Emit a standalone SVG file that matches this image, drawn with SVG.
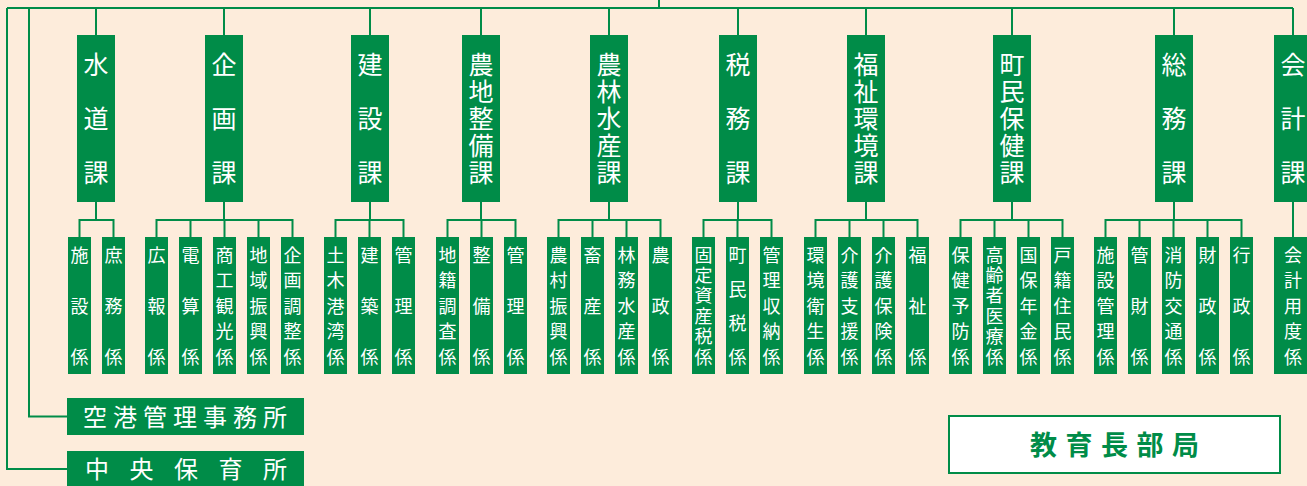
<svg xmlns="http://www.w3.org/2000/svg" width="1307" height="486" viewBox="0 0 1307 486">
<style>
.bg{fill:#fdecdb}
.box{fill:#008c48}
.ln{fill:none;stroke:#008c48;stroke-width:2}
.bt{font-family:"Noto Sans CJK JP","Noto Sans",sans-serif;font-size:25px;fill:#fff;text-anchor:middle}
.st{font-family:"Noto Sans CJK JP","Noto Sans",sans-serif;font-size:18px;fill:#fff;text-anchor:middle}
.ht{font-family:"Noto Sans CJK JP","Noto Sans",sans-serif;font-size:24px;fill:#fff}
.et{font-family:"Noto Sans CJK JP","Noto Sans",sans-serif;font-size:27px;font-weight:bold;fill:#008c48}
</style>
<rect class="bg" x="0" y="0" width="1307" height="486"/>
<g id="connectors">
<path class="ln" d="M659,0V8 M7,8H1293 M7,8V469H67 M29,8V416.5H67"/>
<path class="ln" d="M96,8V35 M224,8V35 M370,8V35 M481,8V35 M609,8V35 M738,8V35 M866,8V35 M1012,8V35 M1174,8V35 M1293,8V35"/>
<path class="ln" d="M96,202V220 M79.5,237V220H113.5V237"/>
<path class="ln" d="M224,202V220 M156.5,237V220H292.5V237 M190.5,220V237 M224.5,220V237 M258.5,220V237"/>
<path class="ln" d="M370,202V220 M335.5,237V220H403.5V237 M369.5,220V237"/>
<path class="ln" d="M481,202V220 M447.5,237V220H515.5V237 M481.5,220V237"/>
<path class="ln" d="M609,202V220 M558.5,237V220H660.5V237 M592.5,220V237 M626.5,220V237"/>
<path class="ln" d="M738,202V220 M703.5,237V220H771.5V237 M737.5,220V237"/>
<path class="ln" d="M866,202V220 M815.5,237V220H917.5V237 M849.5,220V237 M883.5,220V237"/>
<path class="ln" d="M1012,202V220 M960.5,237V220H1062.5V237 M994.5,220V237 M1028.5,220V237"/>
<path class="ln" d="M1174,202V220 M1105.5,237V220H1241.5V237 M1139.5,220V237 M1173.5,220V237 M1207.5,220V237"/>
<path class="ln" d="M1293,202V237"/>
</g>

<g id="suido">
<rect class="box" x="77" y="35" width="38" height="167"/>
<text class="bt"><tspan x="96" y="74">水</tspan><tspan x="96" y="128">道</tspan><tspan x="96" y="182">課</tspan></text>
</g>
<g id="suido-shisetsu"><rect class="box" x="68" y="237" width="23" height="137"/><text class="st"><tspan x="79.5" y="261.5">施</tspan><tspan x="79.5" y="312.5">設</tspan><tspan x="79.5" y="363.5">係</tspan></text></g>
<g id="suido-shomu"><rect class="box" x="102" y="237" width="23" height="137"/><text class="st"><tspan x="113.5" y="261.5">庶</tspan><tspan x="113.5" y="312.5">務</tspan><tspan x="113.5" y="363.5">係</tspan></text></g>

<g id="kikaku">
<rect class="box" x="205" y="35" width="38" height="167"/>
<text class="bt"><tspan x="224" y="74">企</tspan><tspan x="224" y="128">画</tspan><tspan x="224" y="182">課</tspan></text>
</g>
<g id="kikaku-koho"><rect class="box" x="145" y="237" width="23" height="137"/><text class="st"><tspan x="156.5" y="261.5">広</tspan><tspan x="156.5" y="312.5">報</tspan><tspan x="156.5" y="363.5">係</tspan></text></g>
<g id="kikaku-densan"><rect class="box" x="179" y="237" width="23" height="137"/><text class="st"><tspan x="190.5" y="261.5">電</tspan><tspan x="190.5" y="312.5">算</tspan><tspan x="190.5" y="363.5">係</tspan></text></g>
<g id="kikaku-shoko"><rect class="box" x="213" y="237" width="23" height="137"/><text class="st"><tspan x="224.5" y="261.5">商</tspan><tspan x="224.5" y="287">工</tspan><tspan x="224.5" y="312.5">観</tspan><tspan x="224.5" y="338">光</tspan><tspan x="224.5" y="363.5">係</tspan></text></g>
<g id="kikaku-chiiki"><rect class="box" x="247" y="237" width="23" height="137"/><text class="st"><tspan x="258.5" y="261.5">地</tspan><tspan x="258.5" y="287">域</tspan><tspan x="258.5" y="312.5">振</tspan><tspan x="258.5" y="338">興</tspan><tspan x="258.5" y="363.5">係</tspan></text></g>
<g id="kikaku-chosei"><rect class="box" x="281" y="237" width="23" height="137"/><text class="st"><tspan x="292.5" y="261.5">企</tspan><tspan x="292.5" y="287">画</tspan><tspan x="292.5" y="312.5">調</tspan><tspan x="292.5" y="338">整</tspan><tspan x="292.5" y="363.5">係</tspan></text></g>

<g id="kensetsu">
<rect class="box" x="351" y="35" width="38" height="167"/>
<text class="bt"><tspan x="370" y="74">建</tspan><tspan x="370" y="128">設</tspan><tspan x="370" y="182">課</tspan></text>
</g>
<g id="kensetsu-doboku"><rect class="box" x="324" y="237" width="23" height="137"/><text class="st"><tspan x="335.5" y="261.5">土</tspan><tspan x="335.5" y="287">木</tspan><tspan x="335.5" y="312.5">港</tspan><tspan x="335.5" y="338">湾</tspan><tspan x="335.5" y="363.5">係</tspan></text></g>
<g id="kensetsu-kenchiku"><rect class="box" x="358" y="237" width="23" height="137"/><text class="st"><tspan x="369.5" y="261.5">建</tspan><tspan x="369.5" y="312.5">築</tspan><tspan x="369.5" y="363.5">係</tspan></text></g>
<g id="kensetsu-kanri"><rect class="box" x="392" y="237" width="23" height="137"/><text class="st"><tspan x="403.5" y="261.5">管</tspan><tspan x="403.5" y="312.5">理</tspan><tspan x="403.5" y="363.5">係</tspan></text></g>

<g id="nochi">
<rect class="box" x="462" y="35" width="38" height="167"/>
<text class="bt"><tspan x="481" y="74">農</tspan><tspan x="481" y="101">地</tspan><tspan x="481" y="128">整</tspan><tspan x="481" y="155">備</tspan><tspan x="481" y="182">課</tspan></text>
</g>
<g id="nochi-chiseki"><rect class="box" x="436" y="237" width="23" height="137"/><text class="st"><tspan x="447.5" y="261.5">地</tspan><tspan x="447.5" y="287">籍</tspan><tspan x="447.5" y="312.5">調</tspan><tspan x="447.5" y="338">査</tspan><tspan x="447.5" y="363.5">係</tspan></text></g>
<g id="nochi-seibi"><rect class="box" x="470" y="237" width="23" height="137"/><text class="st"><tspan x="481.5" y="261.5">整</tspan><tspan x="481.5" y="312.5">備</tspan><tspan x="481.5" y="363.5">係</tspan></text></g>
<g id="nochi-kanri"><rect class="box" x="504" y="237" width="23" height="137"/><text class="st"><tspan x="515.5" y="261.5">管</tspan><tspan x="515.5" y="312.5">理</tspan><tspan x="515.5" y="363.5">係</tspan></text></g>

<g id="norin">
<rect class="box" x="590" y="35" width="38" height="167"/>
<text class="bt"><tspan x="609" y="74">農</tspan><tspan x="609" y="101">林</tspan><tspan x="609" y="128">水</tspan><tspan x="609" y="155">産</tspan><tspan x="609" y="182">課</tspan></text>
</g>
<g id="norin-noson"><rect class="box" x="547" y="237" width="23" height="137"/><text class="st"><tspan x="558.5" y="261.5">農</tspan><tspan x="558.5" y="287">村</tspan><tspan x="558.5" y="312.5">振</tspan><tspan x="558.5" y="338">興</tspan><tspan x="558.5" y="363.5">係</tspan></text></g>
<g id="norin-chikusan"><rect class="box" x="581" y="237" width="23" height="137"/><text class="st"><tspan x="592.5" y="261.5">畜</tspan><tspan x="592.5" y="312.5">産</tspan><tspan x="592.5" y="363.5">係</tspan></text></g>
<g id="norin-rinmu"><rect class="box" x="615" y="237" width="23" height="137"/><text class="st"><tspan x="626.5" y="261.5">林</tspan><tspan x="626.5" y="287">務</tspan><tspan x="626.5" y="312.5">水</tspan><tspan x="626.5" y="338">産</tspan><tspan x="626.5" y="363.5">係</tspan></text></g>
<g id="norin-nosei"><rect class="box" x="649" y="237" width="23" height="137"/><text class="st"><tspan x="660.5" y="261.5">農</tspan><tspan x="660.5" y="312.5">政</tspan><tspan x="660.5" y="363.5">係</tspan></text></g>

<g id="zeimu">
<rect class="box" x="719" y="35" width="38" height="167"/>
<text class="bt"><tspan x="738" y="74">税</tspan><tspan x="738" y="128">務</tspan><tspan x="738" y="182">課</tspan></text>
</g>
<g id="zeimu-kotei"><rect class="box" x="692" y="237" width="23" height="137"/><text class="st"><tspan x="703.5" y="261.5">固</tspan><tspan x="703.5" y="281.9">定</tspan><tspan x="703.5" y="302.3">資</tspan><tspan x="703.5" y="322.7">産</tspan><tspan x="703.5" y="343.1">税</tspan><tspan x="703.5" y="363.5">係</tspan></text></g>
<g id="zeimu-chomin"><rect class="box" x="726" y="237" width="23" height="137"/><text class="st"><tspan x="737.5" y="261.5">町</tspan><tspan x="737.5" y="295.5">民</tspan><tspan x="737.5" y="329.5">税</tspan><tspan x="737.5" y="363.5">係</tspan></text></g>
<g id="zeimu-shuno"><rect class="box" x="760" y="237" width="23" height="137"/><text class="st"><tspan x="771.5" y="261.5">管</tspan><tspan x="771.5" y="287">理</tspan><tspan x="771.5" y="312.5">収</tspan><tspan x="771.5" y="338">納</tspan><tspan x="771.5" y="363.5">係</tspan></text></g>

<g id="fukushi">
<rect class="box" x="847" y="35" width="38" height="167"/>
<text class="bt"><tspan x="866" y="74">福</tspan><tspan x="866" y="101">祉</tspan><tspan x="866" y="128">環</tspan><tspan x="866" y="155">境</tspan><tspan x="866" y="182">課</tspan></text>
</g>
<g id="fukushi-kankyo"><rect class="box" x="804" y="237" width="23" height="137"/><text class="st"><tspan x="815.5" y="261.5">環</tspan><tspan x="815.5" y="287">境</tspan><tspan x="815.5" y="312.5">衛</tspan><tspan x="815.5" y="338">生</tspan><tspan x="815.5" y="363.5">係</tspan></text></g>
<g id="fukushi-shien"><rect class="box" x="838" y="237" width="23" height="137"/><text class="st"><tspan x="849.5" y="261.5">介</tspan><tspan x="849.5" y="287">護</tspan><tspan x="849.5" y="312.5">支</tspan><tspan x="849.5" y="338">援</tspan><tspan x="849.5" y="363.5">係</tspan></text></g>
<g id="fukushi-hoken"><rect class="box" x="872" y="237" width="23" height="137"/><text class="st"><tspan x="883.5" y="261.5">介</tspan><tspan x="883.5" y="287">護</tspan><tspan x="883.5" y="312.5">保</tspan><tspan x="883.5" y="338">険</tspan><tspan x="883.5" y="363.5">係</tspan></text></g>
<g id="fukushi-fukushi"><rect class="box" x="906" y="237" width="23" height="137"/><text class="st"><tspan x="917.5" y="261.5">福</tspan><tspan x="917.5" y="312.5">祉</tspan><tspan x="917.5" y="363.5">係</tspan></text></g>

<g id="chomin">
<rect class="box" x="993" y="35" width="38" height="167"/>
<text class="bt"><tspan x="1012" y="74">町</tspan><tspan x="1012" y="101">民</tspan><tspan x="1012" y="128">保</tspan><tspan x="1012" y="155">健</tspan><tspan x="1012" y="182">課</tspan></text>
</g>
<g id="chomin-yobo"><rect class="box" x="949" y="237" width="23" height="137"/><text class="st"><tspan x="960.5" y="261.5">保</tspan><tspan x="960.5" y="287">健</tspan><tspan x="960.5" y="312.5">予</tspan><tspan x="960.5" y="338">防</tspan><tspan x="960.5" y="363.5">係</tspan></text></g>
<g id="chomin-koreisha"><rect class="box" x="983" y="237" width="23" height="137"/><text class="st"><tspan x="994.5" y="261.5">高</tspan><tspan x="994.5" y="281.9">齢</tspan><tspan x="994.5" y="302.3">者</tspan><tspan x="994.5" y="322.7">医</tspan><tspan x="994.5" y="343.1">療</tspan><tspan x="994.5" y="363.5">係</tspan></text></g>
<g id="chomin-kokuho"><rect class="box" x="1017" y="237" width="23" height="137"/><text class="st"><tspan x="1028.5" y="261.5">国</tspan><tspan x="1028.5" y="287">保</tspan><tspan x="1028.5" y="312.5">年</tspan><tspan x="1028.5" y="338">金</tspan><tspan x="1028.5" y="363.5">係</tspan></text></g>
<g id="chomin-koseki"><rect class="box" x="1051" y="237" width="23" height="137"/><text class="st"><tspan x="1062.5" y="261.5">戸</tspan><tspan x="1062.5" y="287">籍</tspan><tspan x="1062.5" y="312.5">住</tspan><tspan x="1062.5" y="338">民</tspan><tspan x="1062.5" y="363.5">係</tspan></text></g>

<g id="somu">
<rect class="box" x="1155" y="35" width="38" height="167"/>
<text class="bt"><tspan x="1174" y="74">総</tspan><tspan x="1174" y="128">務</tspan><tspan x="1174" y="182">課</tspan></text>
</g>
<g id="somu-shisetsu"><rect class="box" x="1094" y="237" width="23" height="137"/><text class="st"><tspan x="1105.5" y="261.5">施</tspan><tspan x="1105.5" y="287">設</tspan><tspan x="1105.5" y="312.5">管</tspan><tspan x="1105.5" y="338">理</tspan><tspan x="1105.5" y="363.5">係</tspan></text></g>
<g id="somu-kanzai"><rect class="box" x="1128" y="237" width="23" height="137"/><text class="st"><tspan x="1139.5" y="261.5">管</tspan><tspan x="1139.5" y="312.5">財</tspan><tspan x="1139.5" y="363.5">係</tspan></text></g>
<g id="somu-shobo"><rect class="box" x="1162" y="237" width="23" height="137"/><text class="st"><tspan x="1173.5" y="261.5">消</tspan><tspan x="1173.5" y="287">防</tspan><tspan x="1173.5" y="312.5">交</tspan><tspan x="1173.5" y="338">通</tspan><tspan x="1173.5" y="363.5">係</tspan></text></g>
<g id="somu-zaisei"><rect class="box" x="1196" y="237" width="23" height="137"/><text class="st"><tspan x="1207.5" y="261.5">財</tspan><tspan x="1207.5" y="312.5">政</tspan><tspan x="1207.5" y="363.5">係</tspan></text></g>
<g id="somu-gyosei"><rect class="box" x="1230" y="237" width="23" height="137"/><text class="st"><tspan x="1241.5" y="261.5">行</tspan><tspan x="1241.5" y="312.5">政</tspan><tspan x="1241.5" y="363.5">係</tspan></text></g>

<g id="kaikei">
<rect class="box" x="1274" y="35" width="38" height="167"/>
<text class="bt"><tspan x="1293" y="74">会</tspan><tspan x="1293" y="128">計</tspan><tspan x="1293" y="182">課</tspan></text>
</g>
<g id="kaikei-yodo"><rect class="box" x="1274" y="237" width="38" height="137"/><text class="st"><tspan x="1293" y="261.5">会</tspan><tspan x="1293" y="287">計</tspan><tspan x="1293" y="312.5">用</tspan><tspan x="1293" y="338">度</tspan><tspan x="1293" y="363.5">係</tspan></text></g>

<g id="kuko">
<rect class="box" x="67" y="398" width="237" height="37"/>
<text class="ht" x="83" y="426" letter-spacing="6">空港管理事務所</text>
</g>
<g id="hoikusho">
<rect class="box" x="67" y="451" width="237" height="37"/>
<text class="ht" x="85" y="478" letter-spacing="20.5">中央保育所</text>
</g>
<g id="kyoiku">
<rect x="949" y="416" width="331" height="57" fill="#fff" stroke="#008c48" stroke-width="2"/>
<text class="et" x="1030" y="454.5" letter-spacing="8.5">教育長部局</text>
</g>
</svg>
